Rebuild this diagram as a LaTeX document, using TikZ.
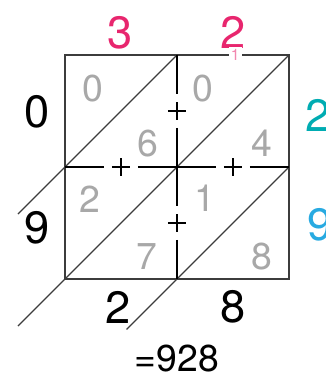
\documentclass[tikz,border=0pt]{standalone}
\usepackage{fontspec}
\setmainfont{TeX Gyre Heros}
\usepackage{xcolor}
\definecolor{factorpink}{RGB}{232, 38, 110}
\definecolor{digitgray}{RGB}{168, 168, 168}
\definecolor{gridslate}{RGB}{60, 60, 60}
\definecolor{sumteal}{RGB}{0, 172, 178}
\definecolor{sumcyan}{RGB}{40, 170, 225}
\usetikzlibrary{calc}

\begin{document}
\begin{tikzpicture}[x=2cm, y=2cm,
    every node/.style={inner sep=0pt},
    bigdigit/.style={font=\fontsize{23}{23}\selectfont},
    celldigit/.style={font=\fontsize{19}{19}\selectfont, text=digitgray},
    cutline/.style={line width=1.4pt, black, dash pattern=on 1.4cm off 0.14cm on 0.32cm off 0.14cm, dash phase=0.7cm},
    diag/.style={line width=0.6pt, gridslate}]
    \useasboundingbox (-0.58,-0.902) rectangle (2.33,2.491);
    % lattice
    \draw[line width=1pt, gridslate] (0,0) rectangle (2,2);
    \draw[diag] (-0.42,0.58) -- (1,2);
    \draw[diag] (-0.42,-0.42) -- (2,2);
    \draw[diag] (0.55,-0.45) -- (2,1);
    \draw[cutline] (1,2) -- (1,0);
    \draw[cutline] (0,1) -- (2,1);
    \foreach \p in {0.5,1.5} {
        \draw[line width=1.2pt] (1-0.08,\p) -- (1+0.08,\p);
        \draw[line width=1.2pt] (\p,1-0.08) -- (\p,1+0.08);
    }
    % factors
    \node[bigdigit, text=factorpink] (topa) at (0.49,2.2) {3};
    \node[bigdigit, text=factorpink] (topb) at (1.5,2.2) {2};
    \node[fill=white, inner sep=1pt, font=\fontsize{8}{8}\selectfont, text=factorpink!55] (carry) at (1.52,2.0) {1};
    \node[bigdigit] (lefta) at (-0.25,1.49) {0};
    \node[bigdigit] (leftb) at (-0.25,0.46) {9};
    \node[bigdigit, text=sumteal] (righta) at (2.26,1.46) {2};
    \node[bigdigit, text=sumcyan] (rightb) at (2.28,0.48) {9};
    % partial products
    \node[celldigit] (pa) at (0.25,1.70) {0};
    \node[celldigit] (pb) at (0.74,1.21) {6};
    \node[celldigit] (pc) at (1.23,1.70) {0};
    \node[celldigit] (pd) at (1.76,1.21) {4};
    \node[celldigit] (pe) at (0.22,0.71) {2};
    \node[celldigit] (pf) at (0.73,0.20) {7};
    \node[celldigit] (pg) at (1.25,0.72) {1};
    \node[celldigit] (ph) at (1.76,0.20) {8};
    % result
    \node[bigdigit] (bota) at (0.47,-0.25) {2};
    \node[bigdigit] (botb) at (1.5,-0.25) {8};
    \node[font=\fontsize{19}{19}\selectfont] (result) at (1.0,-0.71) {=928};
\end{tikzpicture}
\end{document}
